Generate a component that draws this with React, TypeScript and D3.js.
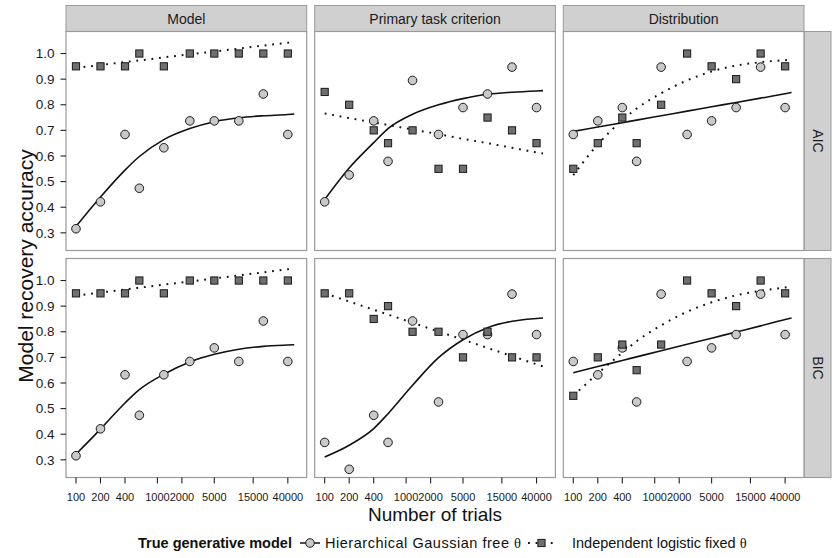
import React from 'react';
import * as d3 from 'd3';

// ---------- data ----------
const trials = [100, 200, 400, 600, 1200, 2500, 5000, 10000, 20000, 40000];
const fitTrials = [100, 200, 400, 600, 1200, 2500, 5000, 10000, 20000, 40000, 48000];
const xTicks = [100, 200, 400, 1000, 2000, 5000, 15000, 40000];
const yTicks = [0.3, 0.4, 0.5, 0.6, 0.7, 0.8, 0.9, 1.0];
const columns = ['Model', 'Primary task criterion', 'Distribution'];
const rows = ['AIC', 'BIC'];

// Hierarchical Gaussian free θ (circles)
const hierAIC_Model = [0.316, 0.421, 0.684, 0.474, 0.632, 0.737, 0.737, 0.737, 0.842, 0.684];
const hierAIC_Primary = [0.421, 0.526, 0.737, 0.579, 0.895, 0.684, 0.789, 0.842, 0.947, 0.789];
const hierAIC_Dist = [0.684, 0.737, 0.789, 0.579, 0.947, 0.684, 0.737, 0.789, 0.947, 0.789];
const hierBIC_Model = [0.316, 0.421, 0.632, 0.474, 0.632, 0.684, 0.737, 0.684, 0.842, 0.684];
const hierBIC_Primary = [0.368, 0.263, 0.474, 0.368, 0.842, 0.526, 0.789, 0.789, 0.947, 0.789];
const hierBIC_Dist = [0.684, 0.632, 0.737, 0.526, 0.947, 0.684, 0.737, 0.789, 0.947, 0.789];

// Independent logistic fixed θ (squares)
const indAIC_Model = [0.95, 0.95, 0.95, 1.0, 0.95, 1.0, 1.0, 1.0, 1.0, 1.0];
const indAIC_Primary = [0.85, 0.8, 0.7, 0.65, 0.7, 0.55, 0.55, 0.75, 0.7, 0.65];
const indAIC_Dist = [0.55, 0.65, 0.75, 0.65, 0.8, 1.0, 0.95, 0.9, 1.0, 0.95];
const indBIC_Model = [0.95, 0.95, 0.95, 1.0, 0.95, 1.0, 1.0, 1.0, 1.0, 1.0];
const indBIC_Primary = [0.95, 0.95, 0.85, 0.9, 0.8, 0.8, 0.7, 0.8, 0.7, 0.7];
const indBIC_Dist = [0.55, 0.7, 0.75, 0.65, 0.75, 1.0, 0.95, 0.9, 1.0, 0.95];

// fitted curves, at fitTrials
const fitHierAIC_Model = [0.325, 0.44, 0.545, 0.598, 0.664, 0.707, 0.734, 0.749, 0.757, 0.762, 0.764];
const fitHierAIC_Primary = [0.43, 0.553, 0.652, 0.707, 0.763, 0.8, 0.824, 0.841, 0.849, 0.854, 0.855];
const fitHierAIC_Dist = [0.696, 0.713, 0.73, 0.74, 0.757, 0.775, 0.792, 0.809, 0.826, 0.843, 0.848];
const fitHierBIC_Model = [0.322, 0.42, 0.522, 0.574, 0.634, 0.682, 0.712, 0.732, 0.743, 0.748, 0.749];
const fitHierBIC_Primary = [0.311, 0.357, 0.422, 0.48, 0.591, 0.699, 0.769, 0.816, 0.841, 0.852, 0.854];
const fitHierBIC_Dist = [0.64, 0.664, 0.688, 0.702, 0.726, 0.751, 0.775, 0.799, 0.823, 0.848, 0.854];

const fitIndAIC_Model = [0.944, 0.955, 0.967, 0.973, 0.985, 0.997, 1.008, 1.019, 1.031, 1.042, 1.045];
const fitIndAIC_Primary = [0.766, 0.748, 0.731, 0.721, 0.703, 0.685, 0.667, 0.65, 0.632, 0.614, 0.61];
const fitIndAIC_Dist = [0.525, 0.645, 0.74, 0.785, 0.845, 0.895, 0.93, 0.953, 0.966, 0.974, 0.975];
const fitIndBIC_Model = [0.941, 0.953, 0.965, 0.972, 0.984, 0.996, 1.008, 1.02, 1.032, 1.044, 1.047];
const fitIndBIC_Primary = [0.95, 0.918, 0.886, 0.867, 0.835, 0.801, 0.769, 0.737, 0.705, 0.673, 0.665];
const fitIndBIC_Dist = [0.55, 0.637, 0.718, 0.763, 0.825, 0.878, 0.915, 0.942, 0.96, 0.973, 0.976];

const hierPoints = [
  [hierAIC_Model, hierAIC_Primary, hierAIC_Dist],
  [hierBIC_Model, hierBIC_Primary, hierBIC_Dist],
];
const indPoints = [
  [indAIC_Model, indAIC_Primary, indAIC_Dist],
  [indBIC_Model, indBIC_Primary, indBIC_Dist],
];
const hierFits = [
  [fitHierAIC_Model, fitHierAIC_Primary, fitHierAIC_Dist],
  [fitHierBIC_Model, fitHierBIC_Primary, fitHierBIC_Dist],
];
const indFits = [
  [fitIndAIC_Model, fitIndAIC_Primary, fitIndAIC_Dist],
  [fitIndBIC_Model, fitIndBIC_Primary, fitIndBIC_Dist],
];

// ---------- layout ----------
const W = 834;
const H = 558;
const colX = [66, 314.7, 563.3];
const panelW = 240.7;
const rowY = [31.5, 258.5];
const panelH = 219;
const stripTop = 5.5;
const rightStripX = 804.3;
const rightStripW = 26.7;
const FONT = 'Liberation Sans, Arial, Helvetica, sans-serif';

const x = d3.scaleLog().domain([75.4, 68200]).range([0, panelW]);
const y = d3.scaleLinear().domain([0.231, 1.086]).range([panelH, 0]);

const line = d3
  .line<[number, number]>()
  .x((d) => x(d[0]))
  .y((d) => y(d[1]))
  .curve(d3.curveMonotoneX);

const CIRCLE_FILL = '#c9c9c9';
const SQUARE_FILL = '#6f6f6f';
const MARK_STROKE = '#1a1a1a';
const STRIP_FILL = '#d0d0d0';
const BORDER = '#9a9a9a';

function Circle({ cx, cy }: { cx: number; cy: number }) {
  return <circle cx={cx} cy={cy} r={4.3} fill={CIRCLE_FILL} stroke={MARK_STROKE} strokeWidth={1} />;
}
function Square({ cx, cy }: { cx: number; cy: number }) {
  const s = 7.2;
  return (
    <rect x={cx - s / 2} y={cy - s / 2} width={s} height={s} fill={SQUARE_FILL} stroke={MARK_STROKE} strokeWidth={1} />
  );
}

function Panel({ r, c }: { r: number; c: number }) {
  const hp = hierPoints[r][c];
  const ip = indPoints[r][c];
  const hf = hierFits[r][c];
  const inf = indFits[r][c];
  const hfData = fitTrials.map((t, i) => [t, hf[i]] as [number, number]);
  const ifData = fitTrials.map((t, i) => [t, inf[i]] as [number, number]);
  return (
    <g transform={`translate(${colX[c]},${rowY[r]})`}>
      <rect x={0} y={0} width={panelW} height={panelH} fill="#ffffff" />
      <path d={line(hfData) || ''} fill="none" stroke="#111" strokeWidth={1.6} />
      <path d={line(ifData) || ''} fill="none" stroke="#111" strokeWidth={2} strokeDasharray="1.8 5.8" />
      {trials.map((t, i) => (
        <Circle key={'c' + i} cx={x(t)} cy={y(hp[i])} />
      ))}
      {trials.map((t, i) => (
        <Square key={'s' + i} cx={x(t)} cy={y(ip[i])} />
      ))}
      <rect x={0} y={0} width={panelW} height={panelH} fill="none" stroke={BORDER} strokeWidth={1.2} />
    </g>
  );
}

export default function App() {
  return (
    <svg
      width={W}
      height={H}
      viewBox={`0 0 ${W} ${H}`}
      style={{ position: 'absolute', left: 0, top: 0, background: '#fff' }}
      fontFamily={FONT}
    >
      <rect x={0} y={0} width={W} height={H} fill="#fff" />
      {/* top strips */}
      {columns.map((name, c) => (
        <g key={name}>
          <rect x={colX[c]} y={stripTop} width={panelW} height={rowY[0] - stripTop} fill={STRIP_FILL} stroke={BORDER} strokeWidth={1} />
          <text x={colX[c] + panelW / 2} y={23.5} textAnchor="middle" fontSize={14} fill="#1a1a1a">
            {name}
          </text>
        </g>
      ))}
      {/* right strips */}
      {rows.map((name, r) => (
        <g key={name}>
          <rect x={rightStripX} y={rowY[r]} width={rightStripW} height={panelH} fill={STRIP_FILL} stroke={BORDER} strokeWidth={1} />
          <text
            transform={`translate(${rightStripX + rightStripW / 2 - 5},${rowY[r] + panelH / 2}) rotate(90)`}
            textAnchor="middle"
            fontSize={14}
            fill="#1a1a1a"
          >
            {name}
          </text>
        </g>
      ))}
      {/* panels */}
      {rows.map((_, r) => columns.map((__, c) => <Panel key={`${r}-${c}`} r={r} c={c} />))}
      {/* y axes */}
      {rows.map((_, r) => (
        <g key={'ya' + r} transform={`translate(${colX[0]},${rowY[r]})`}>
          {yTicks.map((v) => (
            <g key={v} transform={`translate(0,${y(v)})`}>
              <line x1={-5.5} x2={0} y1={0} y2={0} stroke="#222" strokeWidth={1.1} />
              <text x={-11.5} y={4.7} textAnchor="end" fontSize={13.5} fill="#1a1a1a">
                {v.toFixed(1)}
              </text>
            </g>
          ))}
        </g>
      ))}
      {/* x axes */}
      {columns.map((_, c) => (
        <g key={'xa' + c} transform={`translate(${colX[c]},${rowY[1] + panelH})`}>
          {xTicks.map((t) => (
            <g key={t} transform={`translate(${x(t)},0)`}>
              <line x1={0} x2={0} y1={0} y2={6} stroke="#222" strokeWidth={1.1} />
              <text x={0} y={23} textAnchor="middle" fontSize={11} fill="#1a1a1a">
                {t}
              </text>
            </g>
          ))}
        </g>
      ))}
      {/* axis titles */}
      <text x={(colX[0] + colX[2] + panelW) / 2} y={521} textAnchor="middle" fontSize={19} fill="#111">
        Number of trials
      </text>
      <text transform={`translate(33,266) rotate(-90)`} textAnchor="middle" fontSize={21} fill="#111">
        Model recovery accuracy
      </text>
      {/* legend */}
      <g>
        <text x={138} y={548} fontSize={14.5} fontWeight="bold" fill="#111">
          True generative model
        </text>
        <line x1={300} x2={320} y1={543} y2={543} stroke="#111" strokeWidth={1.5} />
        <Circle cx={310} cy={543} />
        <text x={325} y={548} fontSize={14.5} fill="#111" textLength={196} lengthAdjust="spacing">
          Hierarchical Gaussian free <tspan fontFamily="Liberation Serif, serif">θ</tspan>
        </text>
        <line x1={528} x2={555} y1={543} y2={543} stroke="#111" strokeWidth={2} strokeDasharray="1.8 5.8" />
        <Square cx={541.5} cy={543} />
        <text x={572} y={548} fontSize={14.5} fill="#111">
          Independent logistic fixed <tspan fontFamily="Liberation Serif, serif">θ</tspan>
        </text>
      </g>
    </svg>
  );
}
